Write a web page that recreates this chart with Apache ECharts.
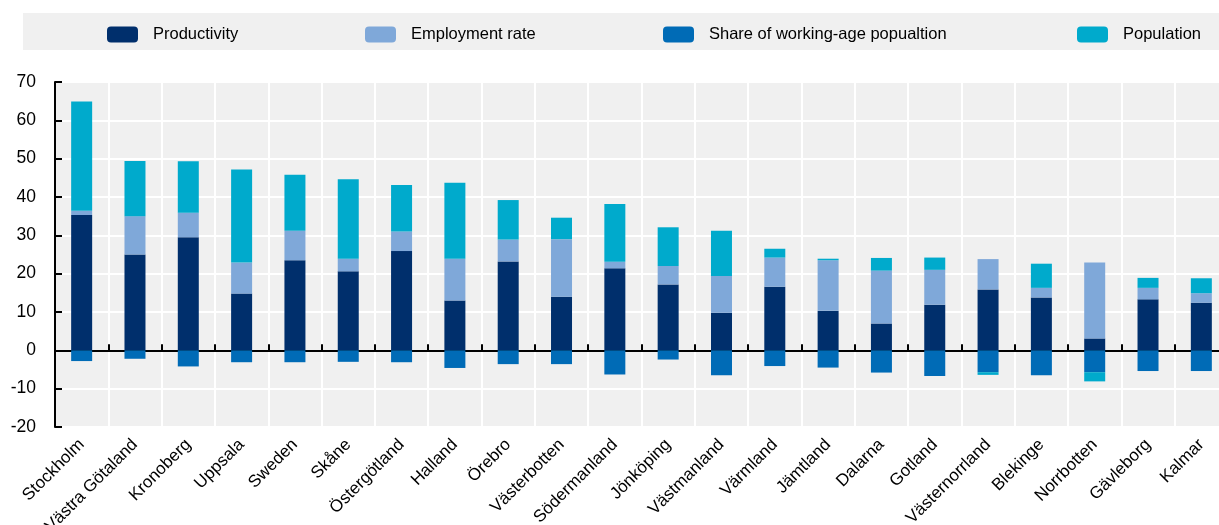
<!DOCTYPE html>
<html>
<head>
<meta charset="utf-8">
<script src="https://cdn.jsdelivr.net/npm/echarts@6/dist/echarts.min.js"></script>
<style>
  html, body { margin: 0; padding: 0; background: #fff; }
  #chart { width: 1219px; height: 525px; }
</style>
</head>
<body>
<div id="chart"></div>
<script>
const categories = ['Stockholm', 'Västra Götaland', 'Kronoberg', 'Uppsala', 'Sweden', 'Skåne', 'Östergötland', 'Halland', 'Örebro', 'Västerbotten', 'Södermanland', 'Jönköping', 'Västmanland', 'Värmland', 'Jämtland', 'Dalarna', 'Gotland', 'Västernorrland', 'Blekinge', 'Norrbotten', 'Gävleborg', 'Kalmar']
const productivity = [35.3, 25.0, 29.5, 14.8, 23.5, 20.6, 25.9, 13.0, 23.2, 14.0, 21.4, 17.2, 9.8, 16.6, 10.3, 7.0, 11.9, 15.9, 13.8, 3.1, 13.3, 12.4]
const employment = [1.1, 10.0, 6.4, 8.1, 7.7, 3.3, 5.1, 10.9, 5.7, 15.0, 1.7, 4.8, 9.6, 7.6, 13.2, 13.8, 9.1, 7.9, 2.5, 19.8, 3.0, 2.5]
const shareWorkingAge = [-2.8, -2.2, -4.2, -3.1, -3.1, -3.0, -3.1, -4.6, -3.6, -3.6, -6.3, -2.4, -6.5, -4.1, -4.5, -5.8, -6.7, -5.7, -6.5, -5.7, -5.4, -5.4]
const population = [28.5, 14.4, 13.4, 24.3, 14.6, 20.7, 12.1, 19.8, 10.3, 5.6, 15.1, 10.1, 11.8, 2.3, 0.4, 3.3, 3.2, -0.7, 6.3, -2.4, 2.6, 3.9]
const yTicks = [-20, -10, 0, 10, 20, 30, 40, 50, 60, 70]

const font = '"Liberation Sans", Arial, sans-serif'
const names = ['Productivity', 'Employment rate', 'Share of working-age popualtion', 'Population']
const colors = ['#002F6C', '#7FA8D9', '#006BB6', '#00AACC']
const legendLeft = [107, 365, 663, 1077]

const myChart = echarts.init(document.getElementById('chart'))

// one legend per item so each sits where the original puts it
const legends = names.map((n, i) => ({
  data: [n],
  left: legendLeft[i],
  top: 26,
  padding: 0,
  itemWidth: 31,
  itemHeight: 16,
  itemGap: 0,
  selectedMode: false,
  textStyle: { fontFamily: font, fontSize: 16.5, color: '#000', padding: [0, 0, 0, 10] }
}))

const seriesData = [productivity, employment, shareWorkingAge, population]

const option = {
  animation: false,
  color: colors,
  graphic: [{
    type: 'rect',
    shape: { x: 23, y: 13, width: 1196, height: 37 },
    style: { fill: '#f0f0f0' },
    z: -10
  }],
  legend: legends,
  grid: {
    left: 55,
    right: -9,
    top: 82,
    bottom: 98,
    outerBoundsMode: 'none',
    containLabel: false,
    show: true,
    backgroundColor: '#f0f0f0',
    borderWidth: 0
  },
  xAxis: [
    {
      type: 'category',
      data: categories,
      position: 'bottom',
      axisLine: { show: false, onZero: false },
      axisTick: { show: false },
      splitLine: { show: true, interval: 0, lineStyle: { color: '#fff', width: 2 } },
      axisLabel: {
        rotate: 45,
        interval: 0,
        margin: 15,
        fontFamily: font,
        fontSize: 17,
        color: '#000'
      }
    },
    {
      // zero line with the small upward ticks
      type: 'category',
      data: categories,
      position: 'bottom',
      axisLine: { show: true, onZero: true, lineStyle: { color: '#000', width: 2 } },
      axisTick: { show: true, interval: 0, inside: true, length: 6, lineStyle: { color: '#000', width: 2 } },
      axisLabel: { show: false, interval: 0 },
      splitLine: { show: false }
    }
  ],
  yAxis: {
    type: 'value',
    min: yTicks[0],
    max: yTicks[yTicks.length - 1],
    interval: 10,
    axisLine: { show: true, lineStyle: { color: '#000', width: 2 } },
    axisTick: { show: true, inside: true, length: 7, lineStyle: { color: '#000', width: 2 } },
    splitLine: { show: true, lineStyle: { color: '#fff', width: 2 } },
    axisLabel: { margin: 19, fontFamily: font, fontSize: 17.5, color: '#000' }
  },
  series: names.map((n, i) => ({
    name: n,
    type: 'bar',
    stack: 'total',
    barWidth: 21,
    xAxisIndex: 0,
    data: seriesData[i],
    itemStyle: { color: colors[i] }
  }))
}

myChart.setOption(option)
</script>
</body>
</html>
